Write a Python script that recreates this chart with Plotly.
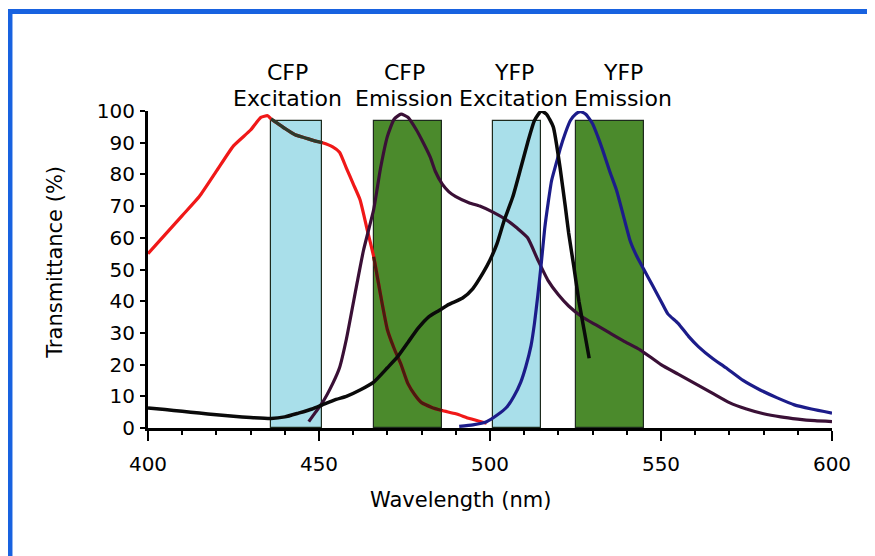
import numpy as np
import plotly.graph_objects as go

# ---------------- data ----------------
cfp_ex_nm = [400, 405, 410, 415, 420, 425, 430, 433, 435, 436, 438, 440, 443, 446, 449, 451,
             454, 456, 458, 460, 462, 464, 466, 468, 470, 472, 474, 476, 478, 480, 483, 486,
             490, 494, 499]
cfp_ex_val = [55, 61, 67, 73, 81, 89, 94, 98, 98.5, 97.5, 96, 94.5, 92.5, 91.5, 90.5, 90,
              88.7, 87, 82, 77, 72, 63, 54, 42, 31, 25, 20, 14, 10.5, 8, 6.5, 5.5,
              4.5, 3, 1.5]

cfp_em_nm = [447, 449, 451, 454, 456, 458, 461, 463, 466, 468, 470, 472, 474, 476, 478.5, 480,
             482.5, 484, 486, 488, 490, 494, 497, 501, 505, 508, 511, 514, 517, 520, 523, 527,
             531, 535, 539, 544, 550, 555, 560, 565, 570, 575, 580, 585, 590, 595, 600]
cfp_em_val = [2, 5, 8, 14, 19, 28, 45, 56, 69, 82, 92, 97.5, 99, 98, 94, 91,
              85.5, 81, 77, 74.5, 73, 71, 70, 68, 65.5, 63, 60, 53, 46.5, 42, 38.5, 35,
              32.5, 30, 27.5, 24.6, 20, 17, 14, 11, 8, 6, 4.5, 3.5, 2.8, 2.3, 2]

yfp_ex_nm = [400, 405, 410, 415, 420, 425, 430, 436, 440, 444, 448, 451, 455, 458, 462, 466,
             470, 473, 476, 479, 482, 485, 488, 492, 495, 498, 500, 502, 504, 506.7, 509, 511,
             513, 515, 516.5, 518.5, 520.5, 522, 523, 524.5, 526, 527.5, 529]
yfp_ex_val = [6.3, 5.8, 5.3, 4.7, 4.2, 3.7, 3.3, 3, 3.5, 4.7, 6, 7.3, 9, 10, 12, 14.5,
              19, 22.5, 27, 31.5, 35, 37, 39, 41, 44, 49, 53, 58, 65, 73, 82, 90,
              97, 100, 99, 95, 82, 70, 61.5, 51, 40, 31, 22]

yfp_em_nm = [491, 495, 499, 502, 505, 507, 509, 510.5, 512, 513, 514, 515, 516, 517, 518, 519.5,
             520.5, 522, 523.5, 525, 526.5, 528, 530, 531.5, 533, 535, 537, 539, 541, 543, 545,
             547.5, 550, 552, 555, 558, 561, 565, 569, 574, 579, 584, 589, 594, 600]
yfp_em_val = [0.5, 1, 2, 4, 6.7, 10, 14.5, 19.5, 26, 33, 42, 52, 63, 71, 78, 84,
              88, 93, 97, 99, 99.8, 99, 96, 92, 87.5, 81, 75, 67, 59, 54, 50,
              45, 40, 36, 33, 29, 25.6, 22, 19, 15, 12, 9.5, 7.3, 6, 4.7]

filter_names = ["CFP<br>Excitation", "CFP<br>Emission", "YFP<br>Excitation", "YFP<br>Emission"]
filter_lo = [436, 466, 501, 525]
filter_hi = [451, 486, 515, 545]
filter_top = [97, 97, 97, 97]

x_ticks = [400, 450, 500, 550, 600]
y_ticks = [0, 10, 20, 30, 40, 50, 60, 70, 80, 90, 100]

# ---------------- styles ----------------
FONT = "DejaVu Sans"
filter_colors = ["#a9dfea", "#4b8a2c", "#a9dfea", "#4b8a2c"]
label_dx = [-2.6, -1.1, -1.0, 3.9]   # label shift from filter centre (nm)
red_dark = {0: "#2c3a2c", 1: "#4a1a10"}
LW = 3.2
SM = dict(shape="spline", smoothing=0.5)

fig = go.Figure()

lo = np.array(filter_lo, float)
hi = np.array(filter_hi, float)
fig.add_trace(go.Bar(
    x=(lo + hi) / 2, y=filter_top, width=hi - lo,
    marker=dict(color=filter_colors, line=dict(color="#1d2a1d", width=1.2)),
    showlegend=False, hoverinfo="skip"))

# red curve (CFP excitation spectrum)
fig.add_trace(go.Scatter(x=cfp_ex_nm, y=cfp_ex_val, mode="lines",
                         line=dict(color="#f01818", width=LW, **SM), showlegend=False,
                         cliponaxis=False))
ex_nm = np.array(cfp_ex_nm, float)
ex_val = np.array(cfp_ex_val, float)
for i, col in red_dark.items():
    m = (ex_nm >= filter_lo[i]) & (ex_nm <= filter_hi[i])
    fig.add_trace(go.Scatter(x=ex_nm[m], y=ex_val[m], mode="lines",
                             line=dict(color=col, width=LW, **SM), showlegend=False))

fig.add_trace(go.Scatter(x=cfp_em_nm, y=cfp_em_val, mode="lines",
                         line=dict(color="#3a1036", width=LW, **SM), showlegend=False,
                         cliponaxis=False))
fig.add_trace(go.Scatter(x=yfp_em_nm, y=yfp_em_val, mode="lines",
                         line=dict(color="#1c1c8a", width=LW, **SM), showlegend=False,
                         cliponaxis=False))
fig.add_trace(go.Scatter(x=yfp_ex_nm, y=yfp_ex_val, mode="lines",
                         line=dict(color="#0a0a0a", width=LW + 0.3, **SM), showlegend=False,
                         cliponaxis=False))

# filter labels
for name, a, b, dx in zip(filter_names, filter_lo, filter_hi, label_dx):
    top, bottom = name.split("<br>")
    cx = (a + b) / 2 + dx
    fig.add_annotation(x=cx, y=1.123, xref="x", yref="paper", text=top,
                       xanchor="center", yanchor="middle", showarrow=False,
                       font=dict(family=FONT, size=22, color="black"))
    fig.add_annotation(x=cx, y=1.038, xref="x", yref="paper", text=bottom,
                       xanchor="center", yanchor="middle", showarrow=False,
                       font=dict(family=FONT, size=22, color="black"))

fig.add_annotation(x=0.457, y=-0.227, xref="paper", yref="paper", text="Wavelength (nm)",
                   xanchor="center", yanchor="middle", showarrow=False,
                   font=dict(family=FONT, size=21, color="black"))
fig.add_annotation(x=-0.136, y=0.524, xref="paper", yref="paper", text="Transmittance (%)",
                   textangle=-90, xanchor="center", yanchor="middle", showarrow=False,
                   font=dict(family=FONT, size=21, color="black"))

# blue frame
blue = "#1862e0"
fig.add_shape(type="line", xref="paper", yref="paper", x0=-0.205, x1=1.08, y0=1.314, y1=1.314,
              line=dict(color=blue, width=5))
fig.add_shape(type="line", xref="paper", yref="paper", x0=-0.2018, x1=-0.2018, y0=1.318, y1=-0.45,
              line=dict(color=blue, width=5))

# page body has an 8px default margin, so the figure is offset by 8px
fig.update_layout(
    width=867, height=548,
    margin=dict(l=140, r=43, t=103, b=128),
    paper_bgcolor="white", plot_bgcolor="white",
    barmode="overlay", bargap=0,
    font=dict(family=FONT, color="black"),
    xaxis=dict(range=[400, 600], tickvals=x_ticks, ticks="outside", ticklen=10, tickwidth=2,
               tickcolor="black", showline=True, linewidth=3, linecolor="black",
               showgrid=False, zeroline=False, tickfont=dict(size=20),
               minor=dict(dtick=10, ticks="outside", ticklen=4, tickwidth=2, tickcolor="black",
                          showgrid=False),
               ticklabelstandoff=6),
    yaxis=dict(range=[0, 100], tickvals=y_ticks, ticks="outside", ticklen=5, tickwidth=2,
               tickcolor="black", showline=True, linewidth=3, linecolor="black",
               showgrid=False, zeroline=False, tickfont=dict(size=20), ticklabelstandoff=1),
)

fig.write_html("out.html")
